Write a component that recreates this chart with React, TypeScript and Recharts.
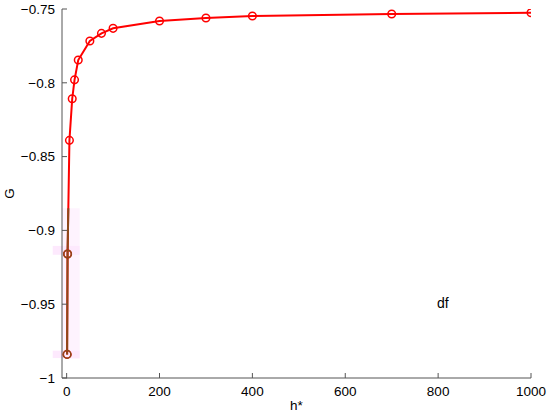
import React from 'react';
import { LineChart, Line, XAxis, YAxis, ReferenceArea } from 'recharts';

// main series (h*, G)
const hValues = [1, 2, 6, 12, 17, 25, 50, 75, 100, 200, 300, 400, 700, 1000];
const gValues = [-0.984, -0.916, -0.839, -0.8108, -0.798, -0.7846, -0.7717, -0.7665, -0.7631, -0.7581, -0.7561, -0.7547, -0.7534, -0.7525];

// overlaid brown segment
const brownH = [1, 2, 3.6];
const brownG = [-0.984, -0.916, -0.885];

// shaded highlight
const shadeX = [-10, 28];
const shadeY = [-0.987, -0.885];
const bandX = [-30, 28];
const bandY1 = [-0.9105, -0.9165];
const bandY2 = [-0.9815, -0.9865];

const xTicks = [0, 200, 400, 600, 800, 1000];
const yTicks = [-1, -0.95, -0.9, -0.85, -0.8, -0.75];

const mainData = hValues.map((h, i) => ({ h, g: gValues[i] }));
const brownData = brownH.map((h, i) => ({ h, g: brownG[i] }));

const FONT = '"Liberation Sans", Arial, Helvetica, sans-serif';
const AXIS = '#555';
const RED = '#ff0000';
const BROWN = '#8a4a1c';

const fmt = (v: number) => {
  const s = String(Math.abs(v));
  return v < 0 ? '\u2212' + s : s;
};

const BottomTick = (p: any) => (
  <g>
    <line x1={p.x} x2={p.x} y1={p.y} y2={p.y - 5} stroke={AXIS} strokeWidth={1} />
    <text x={p.x} y={p.y + 18} textAnchor="middle" fontSize={13.5} fontFamily={FONT} fill="#000">
      {p.payload.value}
    </text>
  </g>
);
const TopTick = (p: any) => (
  <line x1={p.x} x2={p.x} y1={p.y} y2={p.y + 5} stroke={AXIS} strokeWidth={1} />
);
const LeftTick = (p: any) => (
  <g>
    <line x1={p.x} x2={p.x + 5} y1={p.y} y2={p.y} stroke={AXIS} strokeWidth={1} />
    <text x={p.x - 7} y={p.y + 4.8} textAnchor="end" fontSize={13.5} fontFamily={FONT} fill="#000">
      {fmt(p.payload.value)}
    </text>
  </g>
);
const RightTick = (p: any) => (
  <line x1={p.x} x2={p.x - 5} y1={p.y} y2={p.y} stroke={AXIS} strokeWidth={1} />
);

const makeDot = (color: string, skipLast: boolean, total: number) => (p: any) => {
  if (skipLast && p.index === total - 1) return <g key={p.index} />;
  return <circle key={p.index} cx={p.cx} cy={p.cy} r={3.8} fill="none" stroke={color} strokeWidth={1.5} />;
};

export default function App() {
  return (
    <div style={{ position: 'absolute', left: 0, top: 0, width: 550, height: 414, background: '#fff' }}>
      <LineChart width={550} height={414} margin={{ top: 9, right: 19, bottom: 0, left: 0 }}>
        <XAxis
          xAxisId="b"
          dataKey="h"
          type="number"
          domain={[-10, 1000]}
          ticks={xTicks}
          orientation="bottom"
          height={36}
          tickSize={0}
          tickMargin={0}
          tickLine={false}
          axisLine={{ stroke: AXIS }}
          tick={BottomTick}
          interval={0}
          allowDataOverflow
          label={{ value: 'h*', position: 'insideBottom', offset: 4, fontSize: 13.5, fontFamily: FONT, fill: '#000' }}
        />
        <XAxis
          xAxisId="t"
          dataKey="h"
          type="number"
          domain={[-10, 1000]}
          ticks={xTicks}
          orientation="top"
          height={0}
          tickSize={0}
          tickMargin={0}
          tickLine={false}
          axisLine={{ stroke: AXIS }}
          tick={TopTick}
          interval={0}
          allowDataOverflow
        />
        <YAxis
          yAxisId="l"
          type="number"
          domain={[-1, -0.75]}
          ticks={yTicks}
          orientation="left"
          width={62}
          tickSize={0}
          tickMargin={0}
          tickLine={false}
          axisLine={{ stroke: AXIS }}
          tick={LeftTick}
          interval={0}
          allowDataOverflow
          label={{
            content: (lp: any) => {
              const vb = lp.viewBox || { x: 0, y: 9, height: 369 };
              const cx = 9.5;
              const cy = vb.y + vb.height / 2;
              return (
                <text x={cx} y={cy} transform={`rotate(-90, ${cx}, ${cy})`} textAnchor="middle" dominantBaseline="central" fontSize={13.5} fontFamily={FONT} fill="#000">
                  G
                </text>
              );
            },
          }}
        />
        <YAxis
          yAxisId="r"
          type="number"
          domain={[-1, -0.75]}
          ticks={yTicks}
          orientation="right"
          width={0}
          tickSize={0}
          tickMargin={0}
          tickLine={false}
          axisLine={{ stroke: '#333' }}
          tick={RightTick}
          interval={0}
          allowDataOverflow
        />
        <ReferenceArea xAxisId="b" yAxisId="l" x1={shadeX[0]} x2={shadeX[1]} y1={shadeY[0]} y2={shadeY[1]} fill="#fef3fe" fillOpacity={1} stroke="none" />
        <ReferenceArea xAxisId="b" yAxisId="l" x1={bandX[0]} x2={bandX[1]} y1={bandY1[1]} y2={bandY1[0]} fill="#fde9fd" fillOpacity={1} stroke="none" ifOverflow="visible" />
        <ReferenceArea xAxisId="b" yAxisId="l" x1={bandX[0]} x2={bandX[1]} y1={bandY2[1]} y2={bandY2[0]} fill="#fde9fd" fillOpacity={1} stroke="none" ifOverflow="visible" />
        <Line
          xAxisId="b"
          yAxisId="l"
          data={mainData}
          dataKey="g"
          type="linear"
          stroke={RED}
          strokeWidth={2}
          dot={makeDot(RED, false, mainData.length)}
          activeDot={false}
          isAnimationActive={false}
        />
        <Line
          xAxisId="b"
          yAxisId="l"
          data={brownData}
          dataKey="g"
          type="linear"
          stroke={BROWN}
          strokeWidth={2}
          dot={makeDot(BROWN, true, brownData.length)}
          activeDot={false}
          isAnimationActive={false}
        />
      </LineChart>
      <div style={{ position: 'absolute', left: 437, top: 295, fontFamily: FONT, fontSize: 14, lineHeight: '16px', color: '#000' }}>df</div>
    </div>
  );
}
